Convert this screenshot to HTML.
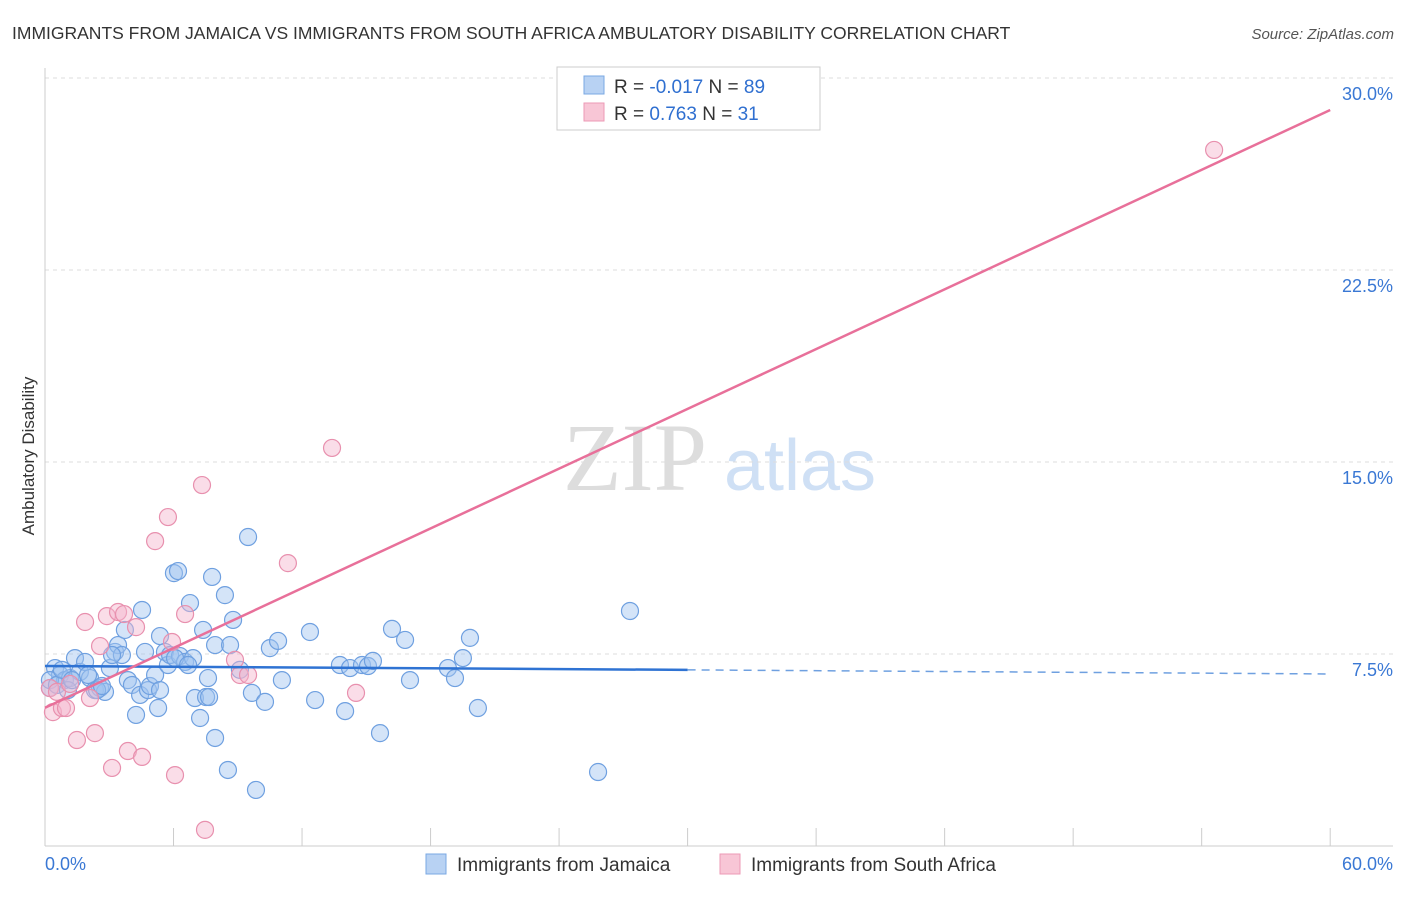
<!DOCTYPE html>
<html><head><meta charset="utf-8"><style>
body{margin:0;background:#fff;font-family:"Liberation Sans",sans-serif;}
svg text{font-family:"Liberation Sans",sans-serif;}
</style></head><body>
<svg id="chart" width="1406" height="892" xmlns="http://www.w3.org/2000/svg">
<text x="12" y="39" font-size="17.5" fill="#333">IMMIGRANTS FROM JAMAICA VS IMMIGRANTS FROM SOUTH AFRICA AMBULATORY DISABILITY CORRELATION CHART</text>
<text x="1394" y="39" font-size="15" fill="#555" text-anchor="end" font-style="italic">Source: ZipAtlas.com</text>
<text transform="translate(34,456) rotate(-90)" font-size="17" fill="#333" text-anchor="middle">Ambulatory Disability</text>
<g>
<text x="635" y="490" font-size="96" fill="#ddd" text-anchor="middle" font-family="Liberation Serif" style="font-family:'Liberation Serif',serif">ZIP</text>
<text x="800" y="490" font-size="72" fill="#cfe0f5" text-anchor="middle">atlas</text>
</g>
<g id="grid"></g><g id="axes"></g><g id="marks"></g>
<g>
<rect x="557" y="67" width="263" height="63" fill="#fff" stroke="#ccc"/>
<rect x="584" y="76" width="20" height="18" fill="#b8d2f3" stroke="#7aa8e3"/>
<rect x="584" y="103" width="20" height="18" fill="#f8c6d6" stroke="#ec9ab6"/>
<text x="614" y="93" font-size="19" fill="#333">R = <tspan fill="#2f6fd0">-0.017</tspan>   N = <tspan fill="#2f6fd0">89</tspan></text>
<text x="614" y="120" font-size="19" fill="#333">R =  <tspan fill="#2f6fd0">0.763</tspan>   N =  <tspan fill="#2f6fd0">31</tspan></text>
</g>
<g>
<rect x="426" y="854" width="20" height="20" fill="#b8d2f3" stroke="#7aa8e3"/>
<text x="457" y="871" font-size="19" fill="#333">Immigrants from Jamaica</text>
<rect x="720" y="854" width="20" height="20" fill="#f8c6d6" stroke="#ec9ab6"/>
<text x="751" y="871" font-size="19" fill="#333">Immigrants from South Africa</text>
</g>
</svg>
<script>
const yTicks=[7.5,15,22.5,30];
const yTickLabels=["7.5%","15.0%","22.5%","30.0%"];
const xTickCount=10;
const xLabels=["0.0%","60.0%"];
const blueX=[0.23,0.47,0.70,0.93,1.17,1.40,1.63,1.87,2.10,2.33,2.57,2.80,3.03,3.27,3.41,3.59,3.73,3.87,4.06,4.25,4.44,4.53,4.67,4.81,4.90,5.14,5.28,5.37,5.60,5.74,5.84,6.02,6.21,6.30,6.54,6.77,6.91,7.00,7.24,7.38,7.52,7.61,7.80,7.94,7.94,8.40,8.54,8.64,8.78,9.10,9.48,9.66,9.85,10.27,10.50,10.88,11.06,12.37,12.61,13.77,14.01,14.24,14.80,15.08,15.31,15.64,16.20,16.81,17.04,18.81,19.14,19.51,19.84,20.21,25.82,27.31,0.23,0.56,0.79,1.07,1.26,2.01,2.43,2.66,3.13,5.37,6.07,6.68,7.66];
const blueY=[6.17,6.95,6.68,6.48,6.56,7.34,6.80,7.19,6.56,6.09,6.17,6.02,6.95,7.58,7.85,7.46,8.44,6.48,6.29,5.12,5.90,9.22,7.58,6.09,6.25,6.68,5.39,8.20,7.58,7.07,7.46,10.66,10.74,7.42,7.19,9.49,7.34,5.78,5.00,8.44,5.82,6.56,10.51,4.22,7.85,9.80,2.97,7.85,8.83,6.88,12.07,5.98,2.19,5.63,7.73,8.01,6.48,8.36,5.70,7.07,5.27,6.95,7.07,7.03,7.23,4.41,8.48,8.05,6.48,6.95,6.56,7.34,8.13,5.39,2.89,9.18,6.48,6.29,6.88,6.09,6.48,6.68,6.09,6.25,7.46,6.09,7.34,7.07,5.82];
const pinkX=[0.23,0.37,0.56,0.79,0.98,1.17,1.49,1.87,2.10,2.33,2.57,2.89,3.13,3.41,3.69,3.87,4.25,4.53,5.14,5.74,5.93,6.07,6.54,7.33,7.47,8.87,9.10,9.48,11.34,13.40,14.52,54.58];
const pinkY=[6.17,5.23,6.02,5.39,5.39,6.33,4.14,8.75,5.78,4.41,7.81,8.98,3.05,9.14,9.06,3.71,8.55,3.48,11.91,12.85,7.97,2.77,9.06,14.10,0.63,7.27,6.68,6.68,11.05,15.55,5.98,27.19];
const blueTrend=[7.03,6.88,6.72]; // at x=0, 30, 60
const pinkTrend=[5.4,28.75]; // at x=0, 60
const NS="http://www.w3.org/2000/svg";
const sx=v=>45+v*21.42, sy=v=>846-v*25.6;
function mk(tag,attrs,parent){const e=document.createElementNS(NS,tag);for(const k in attrs)e.setAttribute(k,attrs[k]);parent.appendChild(e);return e;}
const grid=document.getElementById('grid'),axes=document.getElementById('axes'),marks=document.getElementById('marks');
yTicks.forEach((t,i)=>{
 const l=mk('line',{x1:45,x2:1393,y1:sy(t),y2:sy(t),stroke:'#ddd','stroke-dasharray':'4,4'},grid);
 
 
 const tx=mk('text',{x:1393,y:sy(t)+22,'font-size':18,fill:'#3a78d4','text-anchor':'end'},axes);
 tx.textContent=yTickLabels[i];
 
 
});
const yax=mk('line',{x1:45,x2:45,y1:68,y2:846,stroke:'#ccc'},axes);


const xax=mk('line',{x1:45,x2:1393,y1:846,y2:846,stroke:'#ccc'},axes);


for(let i=1;i<=xTickCount;i++){const x=sx(i*6);const t=mk('line',{x1:x,x2:x,y1:828,y2:846,stroke:'#ccc'},axes);
 
 }
const xl0=mk('text',{x:45,y:870,'font-size':18,fill:'#3a78d4'},axes);xl0.textContent=xLabels[0];


const xl1=mk('text',{x:1393,y:870,'font-size':18,fill:'#3a78d4','text-anchor':'end'},axes);xl1.textContent=xLabels[1];


blueX.forEach((x,i)=>{const c=mk('circle',{cx:sx(x),cy:sy(blueY[i]),r:8.5,fill:'rgba(160,195,240,0.45)',stroke:'#6fa0e0','stroke-width':1.2},marks);
 
 });
pinkX.forEach((x,i)=>{const c=mk('circle',{cx:sx(x),cy:sy(pinkY[i]),r:8.5,fill:'rgba(245,180,205,0.45)',stroke:'#e890ae','stroke-width':1.2},marks);
 
 });
const bl=mk('line',{x1:sx(0),y1:sy(blueTrend[0]),x2:sx(30),y2:sy(blueTrend[1]),stroke:'#2f73d3','stroke-width':2.5},marks);


const bd=mk('line',{x1:sx(30),y1:sy(blueTrend[1]),x2:sx(60),y2:sy(blueTrend[2]),stroke:'#6fa0e0','stroke-width':1.5,'stroke-dasharray':'8,6'},marks);


const pl=mk('line',{x1:sx(0),y1:sy(pinkTrend[0]),x2:sx(60),y2:sy(pinkTrend[1]),stroke:'#e8709a','stroke-width':2.5},marks);


</script>
</body></html>
